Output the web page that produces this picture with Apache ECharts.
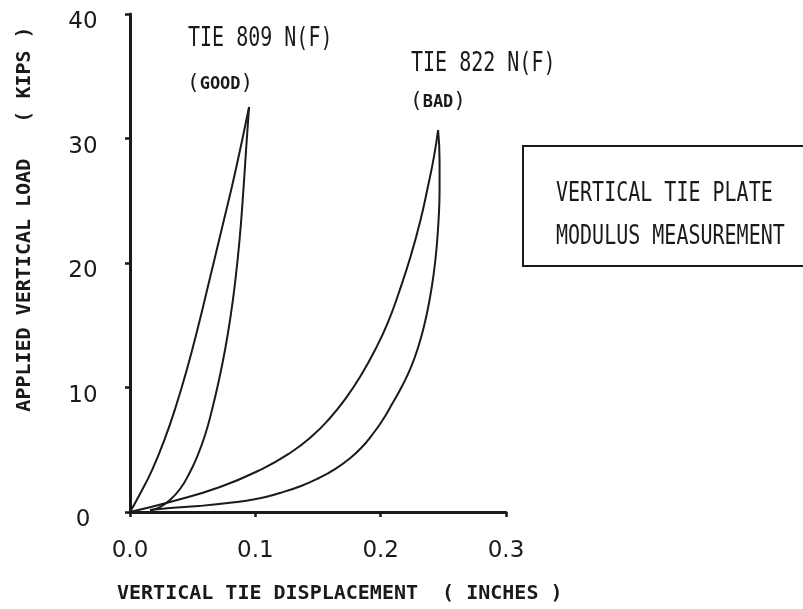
<!DOCTYPE html>
<html><head><meta charset="utf-8">
<script src="https://cdn.jsdelivr.net/npm/echarts@6/dist/echarts.min.js"></script>
<style>html,body{margin:0;padding:0;background:#fff}#c{width:803px;height:609px}</style>
</head><body><div id="c"></div>
<script>
// Tick labels
const xTicks = ['0.0', '0.1', '0.2', '0.3'];
const yTicks = ['0', '10', '20', '30', '40'];
// TIE 809 (good) loading / unloading
const goodLoadX = [0, 0.0088, 0.0176, 0.0271, 0.0367, 0.0455, 0.0543, 0.0638, 0.0734, 0.0838, 0.0950];
const goodLoadY = [0, 1.61, 3.37, 5.70, 8.51, 11.49, 14.86, 18.80, 22.81, 27.23, 32.53];
const goodUnloadX = [0.0950, 0.0926, 0.0902, 0.0874, 0.0838, 0.0798, 0.0758, 0.0710, 0.0654, 0.0599, 0.0535, 0.0471, 0.0399, 0.0319, 0.0239, 0.0160];
const goodUnloadY = [32.53, 29.08, 25.46, 21.85, 18.39, 15.42, 13.01, 10.60, 8.19, 6.18, 4.42, 3.05, 1.85, 0.96, 0.40, 0.12];
// TIE 822 (bad) loading / unloading
const badLoadX = [0, 0.0319, 0.0718, 0.1053, 0.1277, 0.1453, 0.1596, 0.1724, 0.1844, 0.1955, 0.2059, 0.2147, 0.2235, 0.2314, 0.2378, 0.2426, 0.2458];
const badLoadY = [0, 0.80, 2.01, 3.45, 4.74, 6.10, 7.55, 9.16, 11.00, 13.01, 15.26, 17.67, 20.40, 23.29, 26.18, 28.59, 30.68];
const badUnloadX = [0.2458, 0.2470, 0.2470, 0.2462, 0.2446, 0.2422, 0.2390, 0.2350, 0.2302, 0.2243, 0.2171, 0.2091, 0.2011, 0.1931, 0.1844, 0.1748, 0.1636, 0.1508, 0.1365, 0.1197, 0.1006, 0.0782, 0.0551, 0.0319, 0.0160];
const badUnloadY = [30.68, 28.27, 25.86, 23.45, 21.20, 19.04, 17.03, 15.10, 13.33, 11.65, 10.12, 8.67, 7.31, 6.18, 5.14, 4.26, 3.45, 2.73, 2.09, 1.53, 1.04, 0.72, 0.48, 0.32, 0.16];

const TICKFONT = '"DejaVu Sans",sans-serif';
const MONO = '"DejaVu Sans Mono","Liberation Mono",monospace';
const INK = '#1a1a1a';
const zip = (xs, ys) => xs.map((x, i) => [x, ys[i]]);
const line = (name, xs, ys) => ({
  name, type: 'line', data: zip(xs, ys), smooth: 0.5, showSymbol: false,
  lineStyle: { color: INK, width: 2 }, silent: true
});
const label = (text, x, y, extra) => Object.assign({
  type: 'text', x, y, scaleY: 1.3,
  style: { text, font: '20px ' + MONO, fill: INK, align: 'left', verticalAlign: 'middle' }
}, extra || {});
const smallCaps = (word, x, y) => ({
  type: 'text', x, y,
  style: {
    text: '{p|(}{w|' + word + '}{p|)}', align: 'left', verticalAlign: 'middle',
    rich: {
      p: { font: '21px ' + MONO, fill: INK },
      w: { font: 'bold 17px ' + MONO, fill: INK, verticalAlign: 'bottom', padding: [0, 0, 1, 0] }
    }
  }
});

const chart = echarts.init(document.getElementById('c'), null, { renderer: 'canvas' });
chart.setOption({
  animation: false,
  backgroundColor: '#ffffff',
  grid: { left: 130, right: 297, top: 14, bottom: 97 },
  xAxis: {
    type: 'value', min: 0, max: 0.3, interval: 0.1,
    axisLine: { lineStyle: { color: INK, width: 3 } },
    axisTick: { show: true, length: 5, lineStyle: { color: INK, width: 2.5 } },
    splitLine: { show: false },
    axisLabel: { margin: 28, fontSize: 23, fontFamily: TICKFONT, color: INK,
      formatter: (v) => xTicks[Math.round(v * 10)] }
  },
  yAxis: {
    type: 'value', min: 0, max: 40, interval: 10,
    axisLine: { lineStyle: { color: INK, width: 3 } },
    axisTick: { show: true, length: 5, lineStyle: { color: INK, width: 2.5 } },
    splitLine: { show: false },
    axisLabel: { margin: 47, align: 'center', verticalAlign: 'top', lineHeight: 17,
      fontSize: 23, fontFamily: TICKFONT, color: INK,
      formatter: (v) => yTicks[Math.round(v / 10)] }
  },
  series: [
    line('TIE 809 loading', goodLoadX, goodLoadY),
    line('TIE 809 unloading', goodUnloadX, goodUnloadY),
    line('TIE 822 loading', badLoadX, badLoadY),
    line('TIE 822 unloading', badUnloadX, badUnloadY)
  ],
  graphic: [
    { type: 'text', x: 117, y: 594, style: { text: 'VERTICAL TIE DISPLACEMENT  ( INCHES )', font: 'bold 20px ' + MONO, fill: INK, align: 'left', verticalAlign: 'middle' } },
    { type: 'text', x: 25, y: 219, rotation: Math.PI / 2, style: { text: 'APPLIED VERTICAL LOAD   ( KIPS )', font: 'bold 20px ' + MONO, fill: INK, align: 'center', verticalAlign: 'middle' } },
    label('TIE 809 N(F)', 188, 39),
    smallCaps('GOOD', 187, 84),
    label('TIE 822 N(F)', 411, 64),
    smallCaps('BAD', 410, 102),
    { type: 'rect', shape: { x: 523, y: 146, width: 300, height: 120 }, style: { fill: 'none', stroke: INK, lineWidth: 2 } },
    label('VERTICAL TIE PLATE', 556, 194),
    label('MODULUS MEASUREMENT', 556, 237)
  ]
});
</script></body></html>
